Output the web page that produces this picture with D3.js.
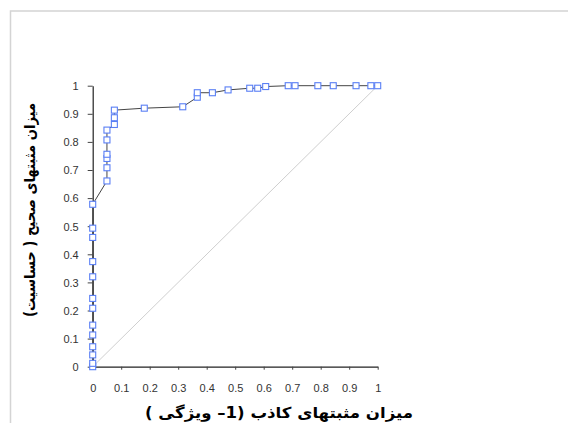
<!DOCTYPE html>
<html>
<head>
<meta charset="utf-8">
<script src="https://cdn.jsdelivr.net/npm/d3@7"></script>
<style>
  body { margin: 0; background: #fff; }
  .tick text { font-family: "Liberation Sans", Arial, sans-serif; font-size: 11px; fill: #333; }
  .axis-title { font-family: "DejaVu Sans", sans-serif; font-weight: bold; fill: #000; }
</style>
</head>
<body>
<div id="chart"></div>
<script>
// ROC curve points
const falsePositiveRate = [0, 0, 0, 0, 0, 0, 0, 0, 0, 0, 0, 0, 0,
  0.05, 0.05, 0.05, 0.05, 0.05, 0.05, 0.076, 0.076, 0.076,
  0.181, 0.316, 0.367, 0.367, 0.42, 0.475, 0.551, 0.579, 0.607,
  0.686, 0.71, 0.79, 0.844, 0.924, 0.976, 1];
const truePositiveRate = [0, 0.012, 0.042, 0.071, 0.113, 0.148, 0.208, 0.243, 0.32, 0.374, 0.46, 0.493, 0.578,
  0.661, 0.708, 0.741, 0.756, 0.807, 0.842, 0.862, 0.886, 0.913,
  0.92, 0.925, 0.959, 0.975, 0.975, 0.985, 0.991, 0.991, 0.997,
  1, 1, 1, 1, 1, 1, 1];
const tickValues = [0, 0.1, 0.2, 0.3, 0.4, 0.5, 0.6, 0.7, 0.8, 0.9, 1];
const diagonal = [[0, 0], [1, 1]];
const xTitle = "میزان مثبتهای کاذب (1– ویژگی )";
const yTitle = "میزان مثبتهای صحیح ( حساسیت)";

const config = {
    containerWidth: 568,
    containerHeight: 423,
    margin: {top: 85.7, left: 92.7},
    width: 285,
    height: 281
};

const points = falsePositiveRate.map((x, i) => ({x: x, y: truePositiveRate[i]}));

const svg = d3.select('#chart').append('svg')
    .attr('width', config.containerWidth)
    .attr('height', config.containerHeight);

// Outer chart frame (light gray, runs off the page on right and bottom)
svg.append('rect')
    .attr('x', 10.5)
    .attr('y', 11)
    .attr('width', 700)
    .attr('height', 700)
    .attr('fill', 'none')
    .attr('stroke', '#d4d4d4')
    .attr('stroke-width', 1.5);

const chart = svg.append('g')
    .attr('transform', `translate(${config.margin.left},${config.margin.top})`);

const xScale = d3.scaleLinear().domain([0, 1]).range([0, config.width]);
const yScale = d3.scaleLinear().domain([0, 1]).range([config.height, 0]);

// Reference diagonal
chart.append('path')
    .datum(diagonal)
    .attr('d', d3.line().x(d => xScale(d[0])).y(d => yScale(d[1])))
    .attr('fill', 'none')
    .attr('stroke', '#cfcfcf')
    .attr('stroke-width', 1);

// Axes
const xAxis = chart.append('g')
    .attr('transform', `translate(0,${config.height})`)
    .call(d3.axisBottom(xScale).tickValues(tickValues).tickFormat(d3.format('')).tickSize(3).tickSizeOuter(0).tickPadding(15));
const yAxis = chart.append('g')
    .call(d3.axisLeft(yScale).tickValues(tickValues).tickFormat(d3.format('')).tickSize(5).tickSizeOuter(0).tickPadding(9));
[xAxis, yAxis].forEach(a => {
    a.select('.domain').attr('stroke', '#222').attr('stroke-width', 1.2);
    a.selectAll('.tick line').attr('stroke', '#444');
});
yAxis.selectAll('.tick text').attr('dy', '0.35em');

// ROC line
chart.append('path')
    .datum(points)
    .attr('d', d3.line().x(d => xScale(d.x)).y(d => yScale(d.y)))
    .attr('fill', 'none')
    .attr('stroke', '#444')
    .attr('stroke-width', 1);

// Square markers
chart.selectAll('.marker')
    .data(points)
    .join('rect')
    .attr('class', 'marker')
    .attr('x', d => xScale(d.x) - 3)
    .attr('y', d => yScale(d.y) - 3)
    .attr('width', 6)
    .attr('height', 6)
    .attr('fill', '#fff')
    .attr('stroke', '#5a7ff5')
    .attr('stroke-width', 1.1);

// Axis titles
svg.append('text')
    .attr('class', 'axis-title')
    .attr('x', 279)
    .attr('y', 418)
    .attr('text-anchor', 'middle')
    .attr('direction', 'rtl')
    .style('font-size', '15px')
    .attr('textLength', 268)
    .attr('lengthAdjust', 'spacingAndGlyphs')
    .text(xTitle);

svg.append('text')
    .attr('class', 'axis-title')
    .attr('transform', 'translate(35,210) rotate(-90)')
    .attr('text-anchor', 'middle')
    .attr('direction', 'rtl')
    .style('font-size', '15px')
    .attr('textLength', 214)
    .attr('lengthAdjust', 'spacingAndGlyphs')
    .text(yTitle);
</script>
</body>
</html>
